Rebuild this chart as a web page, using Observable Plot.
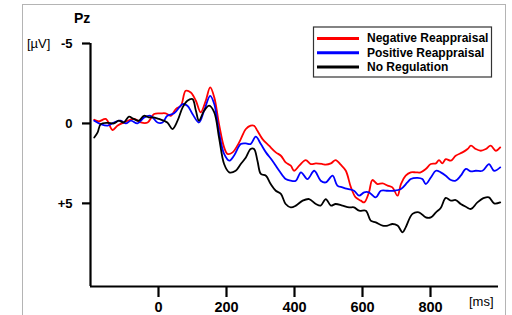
<!DOCTYPE html>
<html>
<head>
<meta charset="utf-8">
<script src="https://cdn.jsdelivr.net/npm/d3@7"></script>
<script src="https://cdn.jsdelivr.net/npm/@observablehq/plot@0.6"></script>
<style>
  html, body { margin: 0; padding: 0; background: white; }
  #wrap { position: relative; width: 512px; height: 315px; overflow: hidden; background: white; }
  #frame { position: absolute; left: 22px; top: 4px; width: 484px; height: 400px; border: 1.5px solid #b4b4b4; box-sizing: border-box; pointer-events: none; }
  #wrap svg { position: absolute; left: 0; top: 0; }
</style>
</head>
<body>
<div id="wrap"><div id="frame"></div></div>
<script>
const series = ["Negative Reappraisal", "Positive Reappraisal", "No Regulation"];
const colors = ["#ff0000", "#0000ff", "#000000"];

const negT = [-189,-175,-155,-135,-121,-101,-72,-52,-32,-13,7,21,36,51,66,80,95,110,124,139,152,164,178,193,203,218,232,242,257,271,281,291,306,325,345,360,374,389,399,414,433,448,463,482,492,507,521,536,551,566,580,595,605,619,629,644,659,674,688,703,713,727,742,757,771,786,801,816,825,835,845,860,874,894,909,919,933,948,963,977,992,1005];
const negV = [-0.23,-0.13,-0.28,0.41,0.14,-0.06,-0.28,-0.06,-0.06,-0.59,-0.63,-0.63,-0.48,-0.9,-1.11,-2.04,-1.94,-1.42,-0.69,-1.42,-2.25,-1.63,0.04,1.5,1.91,1.81,1.39,0.98,0.35,0.14,0.14,0.46,0.98,1.39,1.81,2.02,2.44,2.64,2.96,2.64,2.29,2.54,2.5,2.54,2.58,2.5,2.29,2.58,2.96,4.0,4.63,4.83,4.94,4.31,3.54,3.79,3.75,3.89,4.0,4.52,3.79,3.27,3.06,3.06,3.06,2.85,2.54,2.5,2.29,2.5,2.23,2.33,2.02,1.81,1.6,1.39,1.6,1.71,1.6,1.39,1.71,1.5];

const posT = [-189,-170,-150,-131,-111,-96,-81,-62,-42,-23,-3,12,26,46,71,85,100,119,134,152,164,178,193,208,222,242,257,271,286,301,316,335,355,374,389,404,419,438,458,477,492,512,526,541,556,575,590,605,619,639,654,674,693,713,732,742,762,776,786,801,816,830,845,860,874,889,904,919,933,953,972,987,1005];
const posV = [-0.17,0.04,0.14,-0.06,-0.17,0,-0.17,0,-0.38,-0.48,-0.06,-0.06,-0.48,-0.63,-1.21,-1.11,-0.59,-0.06,-0.79,-1.73,-1.21,0.56,1.91,2.33,2.02,1.29,1.25,1.29,0.83,1.29,1.81,2.33,2.96,3.48,3.58,3.58,3.06,3.48,2.96,3.58,3.69,3.27,3.89,4.0,4.1,4.21,4.52,4.31,4.31,4.63,4.21,4.21,4.21,4.1,3.69,3.48,3.41,3.48,3.79,3.38,2.96,3.06,3.27,3.54,3.58,3.27,2.85,3.0,2.96,2.96,2.54,2.96,2.75];

const noT = [-189,-179,-170,-150,-131,-117,-102,-87,-73,-58,-43,-29,-14,1,26,41,56,71,85,100,110,119,134,149,164,178,193,208,227,242,257,271,281,291,301,316,330,345,360,374,389,404,424,443,463,477,492,507,521,541,561,575,590,610,624,639,659,674,688,703,718,727,747,766,786,801,816,830,845,860,874,889,904,919,938,958,972,987,1005];
const noV = [0.88,0.56,0.04,-0.04,0,-0.17,-0.06,-0.42,-0.28,-0.17,-0.48,-0.38,-0.38,-0.28,-0.06,0.35,-0.17,-1.0,-1.42,-1.52,-0.79,-0.17,-0.79,-1.11,-0.69,0.88,2.54,3.06,2.96,2.54,2.13,1.6,1.6,2.33,3.16,3.27,3.79,4.21,4.41,5.04,5.25,5.14,4.83,4.73,5.04,5.14,4.73,5.14,5.04,5.14,5.25,5.25,5.46,5.46,6.08,6.19,6.39,6.39,6.29,6.39,6.81,6.5,5.66,5.56,5.88,5.88,5.56,5.29,4.66,4.83,4.79,5.04,5.21,5.35,4.94,4.66,4.63,5.0,4.94];

const xTicks = [0, 200, 400, 600, 800];
const yTicks = [-5, 0, 5];
const xDomain = [-200, 1000];
const yDomain = [-5, 10.2];

const rows = [];
[[negT, negV], [posT, posV], [noT, noV]].forEach(([T, V], i) => {
  T.forEach((t, j) => rows.push({series: series[i], t, v: V[j]}));
});

const font = "'Liberation Sans', Arial, Helvetica, sans-serif";

const svg = Plot.plot({
  width: 512,
  height: 315,
  marginLeft: 90,
  marginRight: 14,
  marginTop: 43,
  marginBottom: 29,
  style: {fontFamily: font, background: "transparent", color: "black", overflow: "visible"},
  x: {domain: xDomain},
  y: {domain: yDomain, reverse: true},
  color: {domain: series, range: colors},
  marks: [
    Plot.line(rows, {x: "t", y: "v", z: "series", stroke: "series", strokeWidth: 1.8, curve: "catmull-rom"}),
    Plot.ruleX([xDomain[0]], {stroke: "black", strokeWidth: 2.2}),
    Plot.ruleY([yDomain[1]], {stroke: "black", strokeWidth: 2.2}),
    Plot.axisY({ticks: yTicks, tickSize: 8, tickPadding: 10, strokeWidth: 2.2, label: null,
      tickFormat: d => d > 0 ? "+" + d : String(d), fontSize: 13, fontWeight: "bold"}),
    Plot.axisX({ticks: xTicks, tickSize: 11, tickPadding: 4, strokeWidth: 2.2, label: null,
      tickFormat: d => String(d), fontSize: 14.5, fontWeight: "bold"})
  ]
});

document.getElementById("wrap").appendChild(svg);

const s = d3.select(svg);
const addText = (x, y, size, weight, str, parent = s) =>
  parent.append("text").attr("x", x).attr("y", y).attr("text-anchor", "start")
    .attr("font-family", font).attr("font-size", size).attr("font-weight", weight).text(str);

addText(74, 23, 14, "bold", "Pz");
addText(27, 47.5, 13, "normal", "[µV]");
addText(469, 306, 13, "normal", "[ms]");

const lg = s.append("g").attr("transform", "translate(313.5,27)");
lg.append("rect").attr("width", 178).attr("height", 50).attr("fill", "white").attr("stroke", "#333").attr("stroke-width", 1.2);
series.forEach((name, i) => {
  const yy = 11.5 + i * 14.2;
  lg.append("line").attr("x1", 3.5).attr("x2", 45.5).attr("y1", yy).attr("y2", yy).attr("stroke", colors[i]).attr("stroke-width", 3);
  addText(53.5, yy + 3.8, 12, "bold", name, lg);
});
</script>
</body>
</html>
